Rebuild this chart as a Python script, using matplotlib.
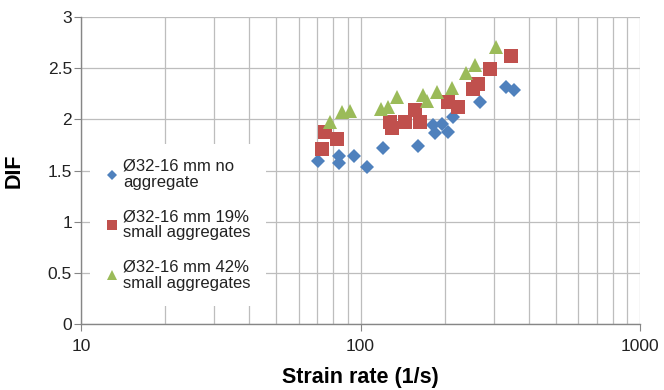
import matplotlib
matplotlib.use("Agg")
import matplotlib.pyplot as plt
from matplotlib.ticker import LogLocator, NullFormatter, FixedLocator

plt.rcParams['font.family'] = ['Liberation Sans', 'DejaVu Sans']

# DIF vs strain rate for the three mixes
rate_none = [70.6, 84, 84, 94.8, 105.7, 120.6, 161, 182, 184, 195, 206, 215, 268, 332, 354]
dif_none = [1.59, 1.64, 1.57, 1.64, 1.54, 1.72, 1.74, 1.945, 1.865, 1.96, 1.88, 2.025, 2.17, 2.32, 2.29]

rate_19 = [72.6, 74.6, 82.6, 127.5, 130, 144, 156.6, 163, 206, 224, 252, 264, 290, 344]
dif_19 = [1.715, 1.88, 1.805, 1.98, 1.915, 1.98, 2.09, 1.98, 2.17, 2.12, 2.295, 2.345, 2.49, 2.62]

rate_42 = [77.8, 85.6, 91.6, 118, 125.8, 135.4, 167, 172.6, 187, 212, 238.5, 257, 305.5]
dif_42 = [1.98, 2.075, 2.08, 2.1, 2.12, 2.22, 2.24, 2.185, 2.27, 2.305, 2.45, 2.53, 2.71]

labels = ["Ø32-16 mm no\naggregate",
          "Ø32-16 mm 19%\nsmall aggregates",
          "Ø32-16 mm 42%\nsmall aggregates"]

fig = plt.figure(figsize=(6.64, 3.9), dpi=100)
ax = fig.add_axes([0.122, 0.169, 0.842, 0.787])

ax.plot(rate_none, dif_none, 'D', color='#4F81BD', markersize=7.6, markeredgewidth=0, label=labels[0])
ax.plot(rate_19, dif_19, 's', color='#C0504D', markersize=9.6, markeredgewidth=0, label=labels[1])
ax.plot(rate_42, dif_42, '^', color='#9BBB59', markersize=9.6, markeredgewidth=0, label=labels[2])

ax.set_xscale('log')
ax.set_xlim(10, 1000)
ax.set_ylim(0, 3)
ax.set_yticks([0, 0.5, 1, 1.5, 2, 2.5, 3])
ax.set_yticklabels(['0', '0.5', '1', '1.5', '2', '2.5', '3'])
ax.xaxis.set_major_locator(FixedLocator([10, 100, 1000]))
ax.set_xticklabels(['10', '100', '1000'])
ax.xaxis.set_minor_locator(LogLocator(base=10, subs=range(2, 10)))
ax.xaxis.set_minor_formatter(NullFormatter())

ax.grid(True, which='both', color='#bdbdbd', linewidth=0.9)
ax.set_axisbelow(True)
for s in ['top', 'right']:
    ax.spines[s].set_visible(False)
for s in ['left', 'bottom']:
    ax.spines[s].set_color('#868686')
    ax.spines[s].set_linewidth(1.0)
ax.tick_params(axis='both', which='major', direction='out', length=5, color='#868686',
               labelsize=12.5, labelcolor='#222222')
ax.tick_params(axis='y', pad=1.5)
ax.tick_params(axis='x', which='minor', length=0)
ax.tick_params(axis='x', pad=6)

ax.set_xlabel("Strain rate (1/s)", fontsize=15.5, fontweight='bold')
ax.set_ylabel("DIF", fontsize=15.5, fontweight='bold')
ax.xaxis.set_label_coords(0.5, -0.14)
ax.yaxis.set_label_coords(-0.1, 0.5)

leg = ax.legend(loc='upper left', bbox_to_anchor=(0.016, 0.587), borderaxespad=0,
                frameon=True, fancybox=False, edgecolor='none', facecolor='white', framealpha=1,
                fontsize=12, markerscale=0.72, handlelength=0.8, handletextpad=0.3,
                labelspacing=1.15, borderpad=0.9)
for t in leg.get_texts():
    t.set_linespacing(1.1)
    t.set_color('#222222')

fig.savefig("out.png", dpi=100)
